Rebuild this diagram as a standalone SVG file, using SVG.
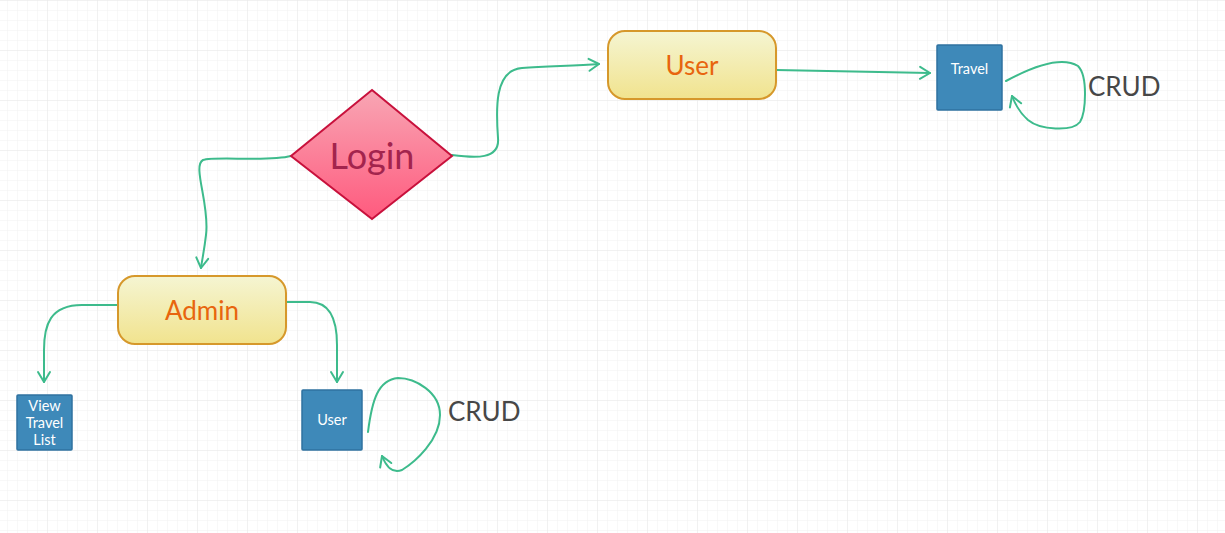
<svg xmlns="http://www.w3.org/2000/svg" width="1225" height="533" viewBox="0 0 1225 533">
<defs>
<pattern id="g" x="7" y="0" width="10" height="10" patternUnits="userSpaceOnUse">
<path d="M0,0 V10 M0,0 H10" fill="none" stroke="#f1f1f1" stroke-width="1"/>
</pattern>
<pattern id="G" x="-3" y="0" width="50" height="50" patternUnits="userSpaceOnUse">
<path d="M0,0 V50 M0,0 H50" fill="none" stroke="#e9e9e9" stroke-width="1"/>
</pattern>
<linearGradient id="pink" x1="0" y1="0" x2="0" y2="1">
<stop offset="0" stop-color="#f8a6b4"/>
<stop offset="1" stop-color="#ff5a7e"/>
</linearGradient>
<linearGradient id="yel" x1="0" y1="0" x2="0" y2="1">
<stop offset="0" stop-color="#f5f5d2"/>
<stop offset="1" stop-color="#f1e38e"/>
</linearGradient>
<marker id="arr" viewBox="-12 -8 14 16" markerWidth="14" markerHeight="16" refX="0" refY="0" orient="auto" markerUnits="userSpaceOnUse">
<path d="M-10,-6 L0,0 L-10,6" fill="none" stroke="#3dbb8c" stroke-width="2" stroke-linecap="round" stroke-linejoin="round"/>
</marker>
</defs>
<style>
.c{fill:none;stroke:#3dbb8c;stroke-width:2;stroke-linecap:round;marker-end:url(#arr)}
.y{fill:url(#yel);stroke:#d6982b;stroke-width:2}
.yt{font-family:Lato,"Open Sans",sans-serif;font-size:26px;fill:#e8650e;text-anchor:middle}
.b{fill:#3e89b9;stroke:#2f71a0;stroke-width:1.5}
.bt{font-family:Lato,"Open Sans",sans-serif;font-size:14.5px;fill:#ffffff;text-anchor:middle}
.crud{font-family:Lato,"Open Sans",sans-serif;font-size:26px;fill:#474747}
</style>
<rect width="1225" height="533" fill="#ffffff"/>
<rect width="1225" height="533" fill="url(#g)"/>
<rect width="1225" height="533" fill="url(#G)"/>

<g id="connectors">
<path class="c" d="M452,155 C475,158 500,160 498,138 C496,110 494,70 522,68 C548,66 575,66 599,64"/>
<path class="c" d="M291,156 C268,162 215,156 203,160 C192,166 210,205 206,235 C204,252 202,260 201,268"/>
<path class="c" d="M776,70 L930,73"/>
<path class="c" d="M1006,81 C1030,68 1060,55 1078,66 C1088,76 1086,112 1080,122 C1072,132 1040,130 1028,120 C1020,113 1015,104 1012,96"/>
<path class="c" d="M121,305 L82,305 C50,305 44,325 44,350 L44,382"/>
<path class="c" d="M286,302 L310,302 C333,302 337,325 337,345 L337,382"/>
<path class="c" d="M368,432 C372,400 378,380 398,378 C415,378 440,392 440,415 C440,440 415,462 402,470 C392,474 386,466 382,456"/>
</g>

<g id="login">
<polygon points="372,90 452,156 372,219 291,156" fill="url(#pink)" stroke="#c8113c" stroke-width="2"/>
<text x="372" y="169" font-family="Lato,'Open Sans',sans-serif" font-size="36" fill="#a3244d" text-anchor="middle">Login</text>
</g>

<g id="user-main">
<rect class="y" x="608" y="31" width="168" height="68" rx="17"/>
<text class="yt" x="692" y="75">User</text>
</g>

<g id="admin">
<rect class="y" x="118" y="276" width="168" height="68" rx="17"/>
<text class="yt" x="202" y="320">Admin</text>
</g>

<g id="travel">
<rect class="b" x="937" y="45" width="65" height="65" rx="1"/>
<text class="bt" x="969.5" y="74">Travel</text>
</g>

<g id="user-box">
<rect class="b" x="302" y="390" width="60" height="60" rx="1"/>
<text class="bt" x="332" y="425">User</text>
</g>

<g id="view-travel-list">
<rect class="b" x="17" y="395" width="55" height="55" rx="1"/>
<text class="bt" x="44.5" y="411">View</text>
<text class="bt" x="44.5" y="428">Travel</text>
<text class="bt" x="44.5" y="445">List</text>
</g>

<g id="crud-labels">
<text class="crud" x="1088" y="96">CRUD</text>
<text class="crud" x="448" y="421">CRUD</text>
</g>
</svg>
